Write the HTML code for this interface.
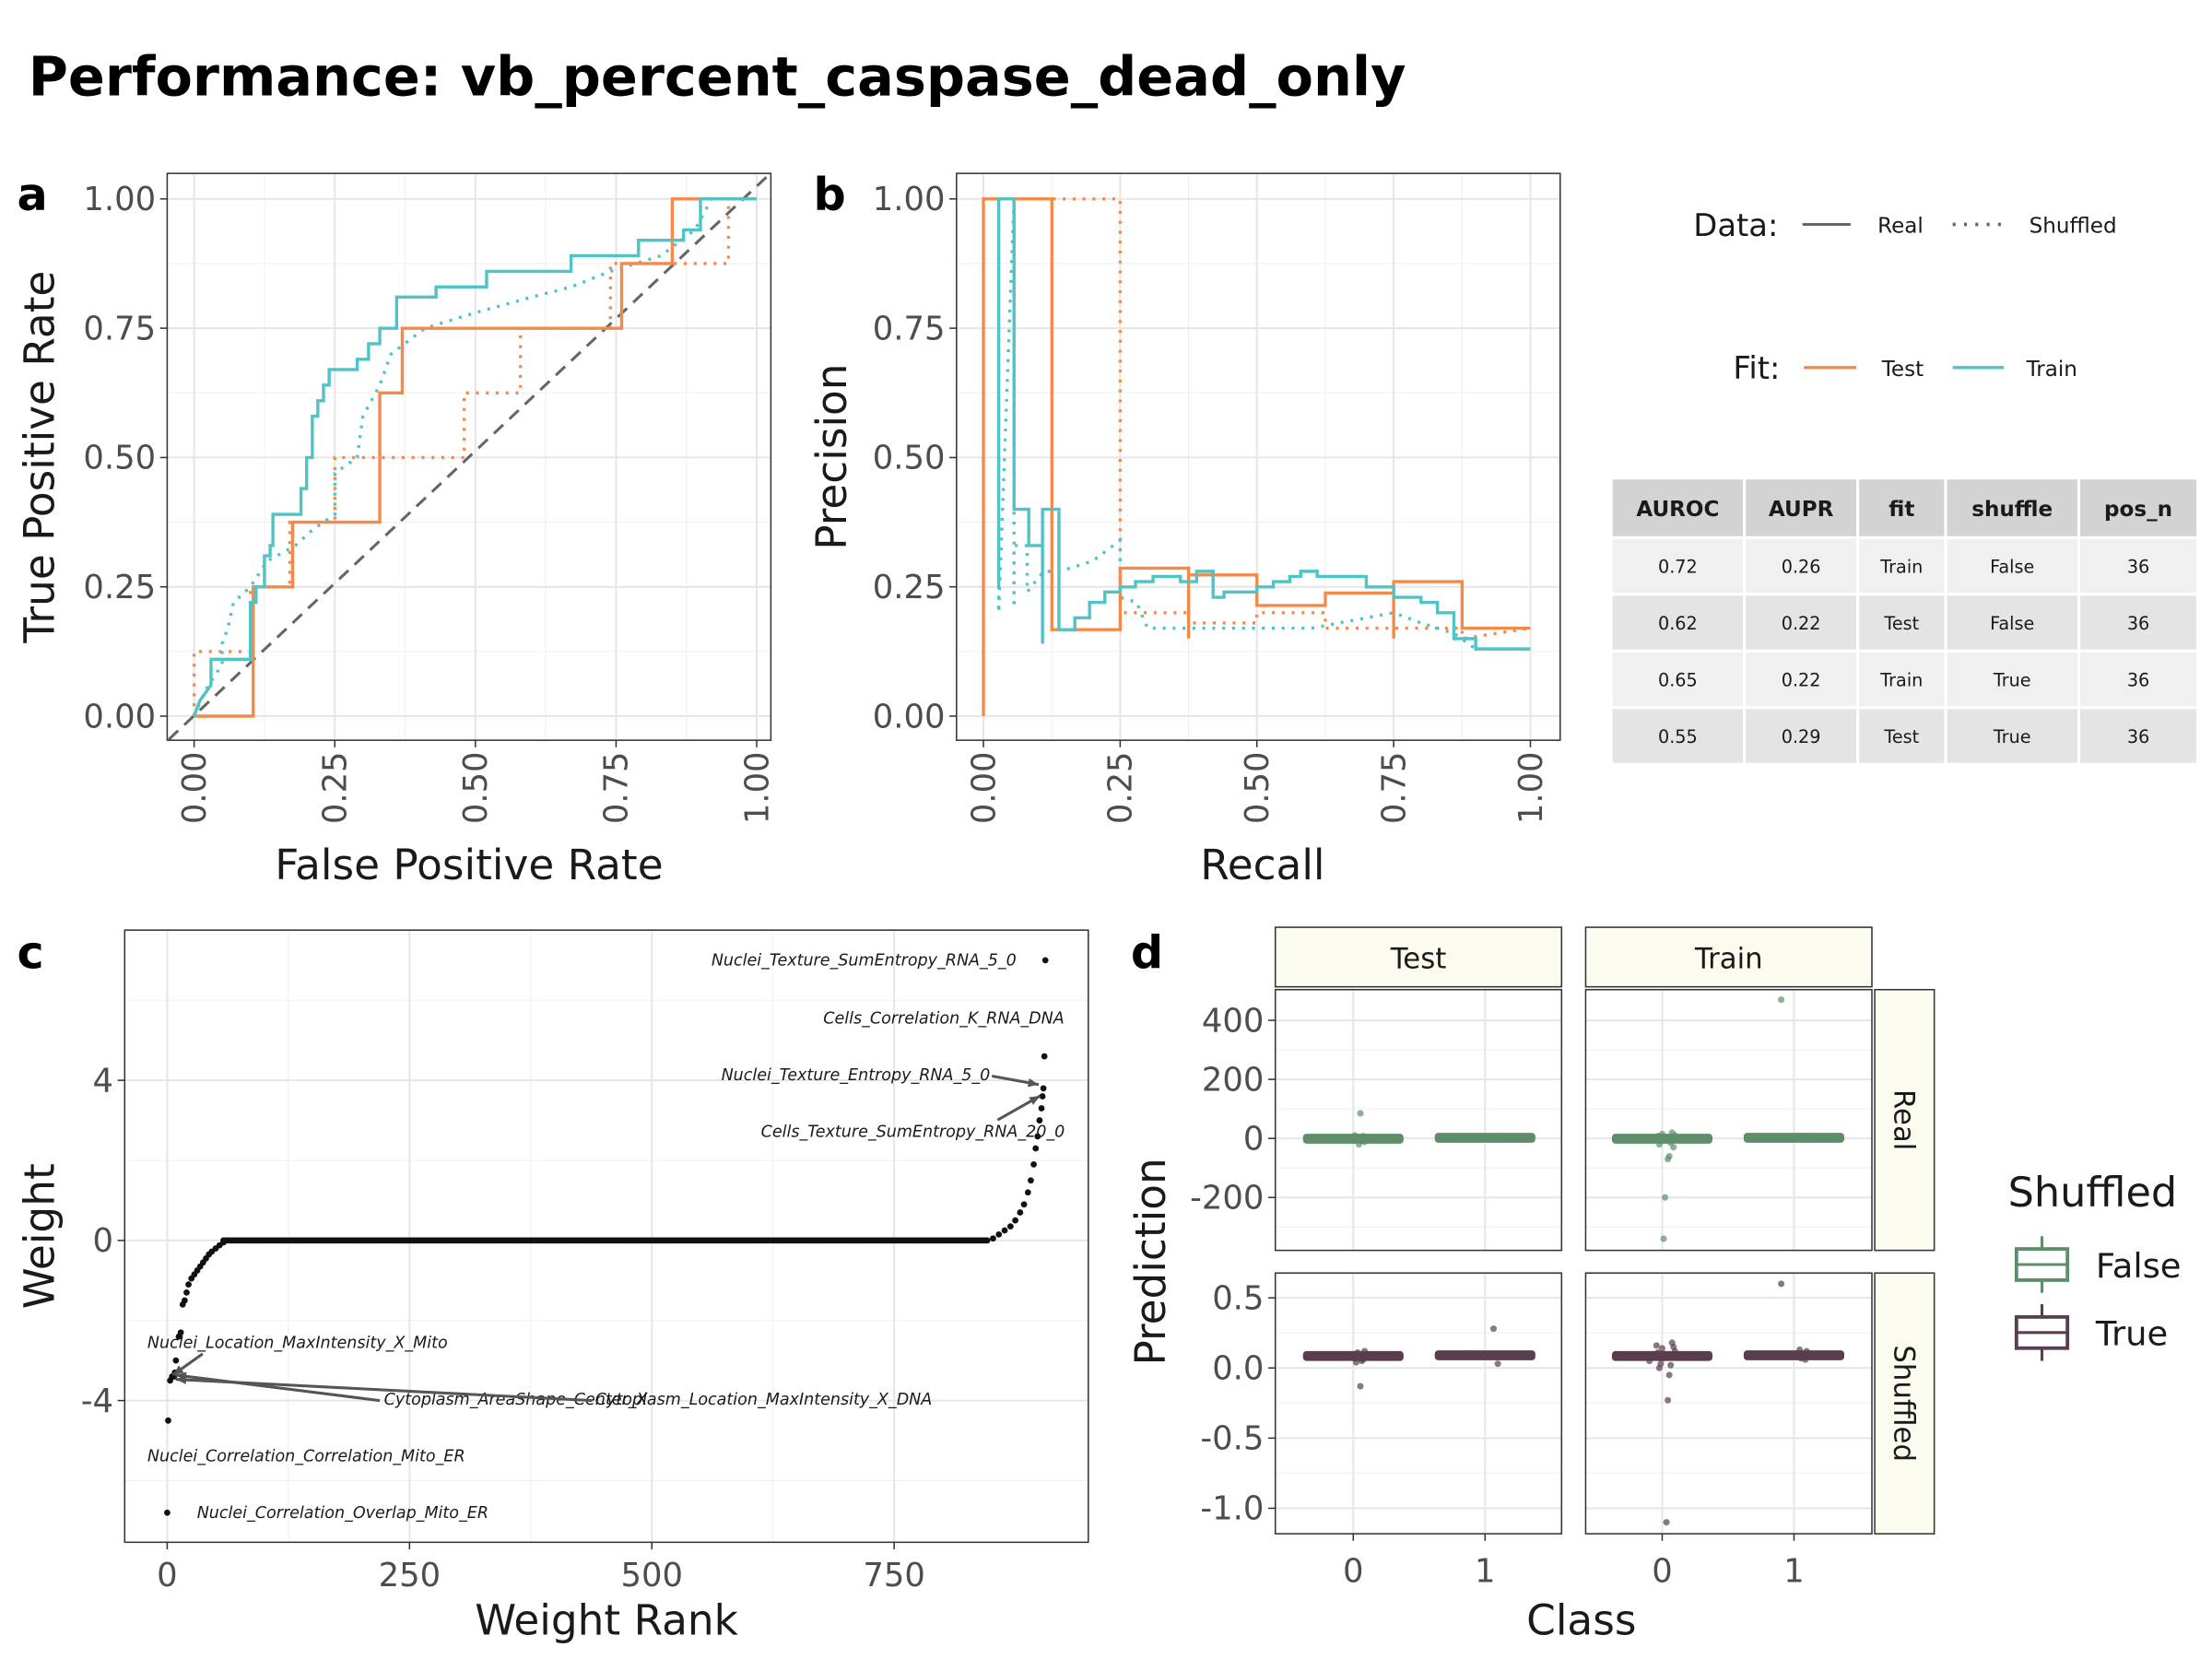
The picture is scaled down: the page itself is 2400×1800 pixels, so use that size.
<!DOCTYPE html>
<html><head><meta charset="utf-8"><style>
html,body{margin:0;padding:0;background:#fff}
svg{display:block;font-family:"DejaVu Sans","Liberation Sans",sans-serif}
</style></head><body>
<svg id="chart" width="2400" height="1800" viewBox="0 0 1561 1170" xmlns="http://www.w3.org/2000/svg">
<rect width="1561" height="1170" fill="#fff"/>
<text x="20" y="67" font-size="38.3" font-weight="bold">Performance: vb_percent_caspase_dead_only</text>
<text x="12" y="148" font-size="32" font-weight="bold">a</text>
<text x="574" y="148" font-size="32" font-weight="bold">b</text>
<text x="12" y="683" font-size="32" font-weight="bold">c</text>
<text x="798" y="683" font-size="32" font-weight="bold">d</text>
<g id="layer"></g>
</svg>
<script>
// ---------- data ----------
const rocTestReal = [[0,0],[0.105,0],[0.105,0.25],[0.175,0.25],[0.175,0.375],[0.33,0.375],[0.33,0.625],[0.37,0.625],[0.37,0.75],[0.76,0.75],[0.76,0.875],[0.85,0.875],[0.85,1],[1,1]];
const rocTrainReal = [[0,0],[0.01,0.03],[0.03,0.06],[0.03,0.11],[0.1,0.11],[0.1,0.22],[0.11,0.22],[0.11,0.25],[0.125,0.25],[0.125,0.31],[0.135,0.31],[0.135,0.33],[0.14,0.33],[0.14,0.39],[0.19,0.39],[0.19,0.44],[0.2,0.44],[0.2,0.5],[0.21,0.5],[0.21,0.58],[0.22,0.58],[0.22,0.61],[0.23,0.61],[0.23,0.64],[0.24,0.64],[0.24,0.67],[0.29,0.67],[0.29,0.69],[0.31,0.69],[0.31,0.72],[0.33,0.72],[0.33,0.75],[0.36,0.75],[0.36,0.81],[0.43,0.81],[0.43,0.83],[0.52,0.83],[0.52,0.86],[0.67,0.86],[0.67,0.89],[0.79,0.89],[0.79,0.92],[0.87,0.92],[0.87,0.94],[0.9,0.94],[0.9,1],[1,1]];
const rocTestShuf = [[0,0],[0,0.125],[0.1,0.125],[0.1,0.25],[0.17,0.25],[0.17,0.375],[0.25,0.375],[0.25,0.5],[0.48,0.5],[0.48,0.625],[0.58,0.625],[0.58,0.75],[0.74,0.75],[0.74,0.875],[0.95,0.875],[0.95,1],[1,1]];
const rocTrainShuf = [[0,0],[0.02,0.05],[0.05,0.1],[0.05,0.14],[0.06,0.17],[0.07,0.22],[0.1,0.25],[0.13,0.3],[0.18,0.33],[0.21,0.36],[0.25,0.39],[0.25,0.47],[0.29,0.5],[0.3,0.58],[0.33,0.64],[0.35,0.7],[0.41,0.75],[0.5,0.78],[0.6,0.81],[0.67,0.83],[0.74,0.86],[0.83,0.89],[0.89,0.94],[0.92,1],[1,1]];
const prTestReal = [[0,0],[0,1],[0.125,1],[0.125,0.167],[0.25,0.167],[0.25,0.286],[0.375,0.286],[0.375,0.15],[0.375,0.273],[0.5,0.273],[0.5,0.214],[0.625,0.214],[0.625,0.238],[0.75,0.238],[0.75,0.15],[0.75,0.26],[0.875,0.26],[0.875,0.17],[1,0.17]];
const prTrainReal = [[0.028,1],[0.028,0.25],[0.028,1],[0.056,1],[0.056,0.4],[0.083,0.4],[0.083,0.33],[0.108,0.33],[0.108,0.14],[0.108,0.4],[0.138,0.4],[0.138,0.167],[0.167,0.167],[0.167,0.19],[0.194,0.19],[0.194,0.22],[0.222,0.22],[0.222,0.24],[0.25,0.24],[0.25,0.25],[0.278,0.25],[0.278,0.26],[0.31,0.26],[0.31,0.27],[0.36,0.27],[0.36,0.26],[0.39,0.26],[0.39,0.28],[0.42,0.28],[0.42,0.23],[0.44,0.23],[0.44,0.24],[0.5,0.24],[0.5,0.25],[0.53,0.25],[0.53,0.26],[0.56,0.26],[0.56,0.27],[0.58,0.27],[0.58,0.28],[0.61,0.28],[0.61,0.27],[0.7,0.27],[0.7,0.25],[0.75,0.25],[0.75,0.23],[0.8,0.23],[0.8,0.22],[0.83,0.22],[0.83,0.2],[0.86,0.2],[0.86,0.15],[0.9,0.15],[0.9,0.13],[1,0.13]];
const prTestShuf = [[0,1],[0.25,1],[0.25,0.17],[0.25,0.2],[0.375,0.2],[0.375,0.18],[0.5,0.18],[0.5,0.2],[0.625,0.2],[0.625,0.17],[0.75,0.17],[0.875,0.17],[0.875,0.15],[1,0.17]];
const prTrainShuf = [[0.028,1],[0.028,0.2],[0.056,1],[0.056,0.21],[0.056,0.33],[0.08,0.33],[0.08,0.24],[0.11,0.28],[0.14,0.28],[0.2,0.3],[0.25,0.34],[0.25,0.23],[0.28,0.22],[0.3,0.17],[0.4,0.17],[0.5,0.17],[0.6,0.17],[0.7,0.19],[0.75,0.2],[0.8,0.18],[0.86,0.16],[0.9,0.13],[1,0.13]];
const tableHeader = ["AUROC","AUPR","fit","shuffle","pos_n"];
const tableRows = [["0.72","0.26","Train","False","36"],["0.62","0.22","Test","False","36"],["0.65","0.22","Train","True","36"],["0.55","0.29","Test","True","36"]];
const negTailRanks = [0,1,3,5,7,8,9,12,14,16,18,20,22,25,28,31,34,37,40,43,46,50,54,58];
const negTailWeights = [-6.8,-4.5,-3.5,-3.4,-3.4,-3.3,-3.0,-2.4,-2.3,-1.6,-1.5,-1.3,-1.1,-0.95,-0.85,-0.75,-0.65,-0.55,-0.45,-0.35,-0.28,-0.2,-0.12,-0.05];
const zeroStart = 58, zeroEnd = 846;
const posTailRanks = [852,858,864,870,875,880,884,888,891,894,896,898,900,902,903,904,905,906];
const posTailWeights = [0.05,0.15,0.25,0.35,0.5,0.7,0.9,1.2,1.5,1.9,2.3,2.6,3.0,3.3,3.6,3.8,4.6,7.0];
const realTestPts0 = [-5,3,-12,8,0,85,-20,5,-3,10,-8,2];
const realTestPts1 = [2,-2,4,0,3];
const realTrainPts0 = [-5,10,-30,20,-15,-60,-70,5,-200,-340,15,-8,-20,8];
const realTrainPts1 = [470,5,-3,8,2,-4];
const shufTestPts0 = [0.08,0.1,0.12,0.06,0.05,-0.13,0.09,0.11,0.04,0.07];
const shufTestPts1 = [0.1,0.03,0.09,0.08];
const shufTestPts1b = [0.28];
const shufTrainPts0 = [0.05,0.12,0.15,0.18,0.02,-0.05,-0.23,-1.1,0.1,0.07,0.14,0.03,0.0,0.11,0.16];
const shufTrainPts1 = [0.6,0.12,0.06,0.1,0.08,0.07,0.13];

// ---------- helpers ----------
const NS="http://www.w3.org/2000/svg";
const layer=document.getElementById('layer');
function mk(tag,attrs,parent){const e=document.createElementNS(NS,tag);for(const k in attrs)e.setAttribute(k,attrs[k]);(parent||layer).appendChild(e);return e;}
function txt(x,y,s,size,attrs){const e=mk('text',Object.assign({x:x,y:y,'font-size':size,fill:'#1a1a1a'},attrs||{}));e.textContent=s;return e;}
const ORANGE="#f5894a", TEAL="#4fc3c6";
const TICK=23, TITLE=29.5;

const ax=v=>137+v*397, ay=v=>505-v*365;
const bx=v=>694+v*386;
function gridPanel(x0,y0,x1,y1,xs,ys,xminor,yminor,name){
  const bg=mk('rect',{x:x0,y:y0,width:x1-x0,height:y1-y0,fill:'#fff'});
  
  
  xminor.forEach(v=>mk('line',{x1:v,x2:v,y1:y0,y2:y1,stroke:'#f0f0f0','stroke-width':0.7}));
  yminor.forEach(v=>mk('line',{x1:x0,x2:x1,y1:v,y2:v,stroke:'#f0f0f0','stroke-width':0.7}));
  xs.forEach(v=>mk('line',{x1:v,x2:v,y1:y0,y2:y1,stroke:'#e6e6e6','stroke-width':1.3}));
  ys.forEach(v=>mk('line',{x1:x0,x2:x1,y1:v,y2:v,stroke:'#e6e6e6','stroke-width':1.3}));
}
function border(x0,y0,x1,y1){mk('rect',{x:x0,y:y0,width:x1-x0,height:y1-y0,fill:'none',stroke:'#333','stroke-width':1});}
const ticks4=[0,0.25,0.5,0.75,1], minor4=[0.125,0.375,0.625,0.875];
const tickLabels4=["0.00","0.25","0.50","0.75","1.00"];
gridPanel(118,122,544,522,ticks4.map(ax),ticks4.map(ay),minor4.map(ax),minor4.map(ay),'roc');
gridPanel(675,122,1101,522,ticks4.map(bx),ticks4.map(ay),minor4.map(bx),minor4.map(ay),'pr');
function path(pts,fx,fy,color,dash,name){
  const d=pts.map((p,i)=>(i?'L':'M')+fx(p[0]).toFixed(1)+','+fy(p[1]).toFixed(1)).join('');
  const e=mk('path',{d:d,fill:'none',stroke:color,'stroke-width':2.2,'stroke-dasharray':dash||'none'});
  
  
}
const diag=mk('line',{x1:ax(-0.045),y1:ay(-0.045),x2:ax(1.02),y2:ay(1.045),stroke:'#666','stroke-width':2,'stroke-dasharray':'9,6'});


path(rocTestShuf,ax,ay,ORANGE,'2,5','roc-test-shuffled');
path(rocTrainShuf,ax,ay,TEAL,'2,5','roc-train-shuffled');
path(rocTestReal,ax,ay,ORANGE,null,'roc-test-real');
path(rocTrainReal,ax,ay,TEAL,null,'roc-train-real');
border(118,122,544,522);
path(prTestShuf,bx,ay,ORANGE,'2,5','pr-test-shuffled');
path(prTrainShuf,bx,ay,TEAL,'2,5','pr-train-shuffled');
path(prTestReal,bx,ay,ORANGE,null,'pr-test-real');
path(prTrainReal,bx,ay,TEAL,null,'pr-train-real');
border(675,122,1101,522);
function xTicksRot(fx,yb){ticks4.forEach((v,i)=>{mk('line',{x1:fx(v),x2:fx(v),y1:yb,y2:yb+5,stroke:'#333'});
  const t=txt(0,0,tickLabels4[i],TICK,{fill:'#4d4d4d','text-anchor':'end',transform:`translate(${fx(v)+8},${yb+8}) rotate(-90)`});
  });}
function yTicks(fy,xl,vals,labels,size){vals.forEach((v,i)=>{mk('line',{x1:xl-5,x2:xl,y1:fy(v),y2:fy(v),stroke:'#333'});
  const t=txt(xl-8,fy(v)+8,labels[i],size||TICK,{fill:'#4d4d4d','text-anchor':'end'});
  });}
xTicksRot(ax,522);yTicks(ay,118,ticks4,tickLabels4);
xTicksRot(bx,522);yTicks(ay,675,ticks4,tickLabels4);
let t;
t=txt(331,620,'False Positive Rate',TITLE,{'text-anchor':'middle'});
t=txt(0,0,'True Positive Rate',TITLE,{'text-anchor':'middle',transform:'translate(38,322) rotate(-90)'});
t=txt(891,620,'Recall',TITLE,{'text-anchor':'middle'});
t=txt(0,0,'Precision',TITLE,{'text-anchor':'middle',transform:'translate(597,322) rotate(-90)'});

// legends
t=txt(1195,166,'Data:',22);
mk('line',{x1:1272,x2:1306,y1:158,y2:158,stroke:'#666','stroke-width':2});
t=txt(1325,164,'Real',15);
mk('line',{x1:1378,x2:1414,y1:158,y2:158,stroke:'#666','stroke-width':2.5,'stroke-dasharray':'2,6'});
t=txt(1432,164,'Shuffled',15);
t=txt(1223,267,'Fit:',22);
mk('line',{x1:1273,x2:1310,y1:259,y2:259,stroke:ORANGE,'stroke-width':2.2});
t=txt(1328,265,'Test',15);
mk('line',{x1:1378,x2:1414,y1:259,y2:259,stroke:TEAL,'stroke-width':2.2});
t=txt(1430,265,'Train',15);

// table
const colX=[1138,1232,1312,1374,1468,1552];
const rowY=[338,380,420,460,500,540];
const rowFill=['#d3d3d3','#f0f0f0','#e4e4e4','#f0f0f0','#e4e4e4'];
for(let r=0;r<5;r++){for(let c=0;c<5;c++){
  mk('rect',{x:colX[c],y:rowY[r],width:colX[c+1]-colX[c]-2,height:rowY[r+1]-rowY[r]-2,fill:rowFill[r]});
  const s=r===0?tableHeader[c]:tableRows[r-1][c];
  const e=txt((colX[c]+colX[c+1]-2)/2,(rowY[r]+rowY[r+1])/2+(r===0?5:4),s,r===0?15:12.5,{'text-anchor':'middle','font-weight':r===0?'bold':'normal'});
  
  
}}

// ---------- panel c ----------
const cx=v=>118+v*0.684, cy=v=>875-v*28.25;
gridPanel(88,656,768,1088,[0,250,500,750].map(cx),[-4,0,4].map(cy),[125,375,625].map(cx),[-6,-2,2,6].map(cy),'weights');
function dot(x,y,r,fill,name,op){const e=mk('circle',{cx:x,cy:y,r:r,fill:fill,'fill-opacity':op||1});}
negTailRanks.forEach((r,i)=>dot(cx(r),cy(negTailWeights[i]),2.2,'#111','weight-point'));
for(let r=zeroStart;r<=zeroEnd;r+=2){dot(cx(r),cy(0),2.2,'#111','weight-point');}
posTailRanks.forEach((r,i)=>dot(cx(r),cy(posTailWeights[i]),2.2,'#111','weight-point'));
border(88,656,768,1088);
yTicks(cy,88,[4,0,-4],['4','0','-4']);
[0,250,500,750].forEach(v=>{mk('line',{x1:cx(v),x2:cx(v),y1:1088,y2:1093,stroke:'#333'});
  const e=txt(cx(v),1119,String(v),TICK,{fill:'#4d4d4d','text-anchor':'middle'});});
t=txt(428,1153,'Weight Rank',TITLE,{'text-anchor':'middle'});
t=txt(0,0,'Weight',TITLE,{'text-anchor':'middle',transform:'translate(38,872) rotate(-90)'});
const annots=[[502,681,'Nuclei_Texture_SumEntropy_RNA_5_0'],[581,722,'Cells_Correlation_K_RNA_DNA'],[509,762,'Nuclei_Texture_Entropy_RNA_5_0'],[537,802,'Cells_Texture_SumEntropy_RNA_20_0'],[104,951,'Nuclei_Location_MaxIntensity_X_Mito'],[271,991,'Cytoplasm_AreaShape_Center_X'],[420,991,'Cytoplasm_Location_MaxIntensity_X_DNA'],[104,1031,'Nuclei_Correlation_Correlation_Mito_ER'],[139,1071,'Nuclei_Correlation_Overlap_Mito_ER']];
annots.forEach(a=>{const e=txt(a[0],a[1],a[2],11.4,{'font-style':'italic'});});
[[700,759,733,765],[704,790,734,773],[143,955,122,970],[268,988,124,970],[418,988,124,973]].forEach(l=>{
  mk('line',{x1:l[0],y1:l[1],x2:l[2],y2:l[3],stroke:'#555','stroke-width':2});
  const ang=Math.atan2(l[3]-l[1],l[2]-l[0]);const L=8;
  mk('path',{d:`M${l[2]},${l[3]}L${l[2]-L*Math.cos(ang-0.4)},${l[3]-L*Math.sin(ang-0.4)}L${l[2]-L*Math.cos(ang+0.4)},${l[3]-L*Math.sin(ang+0.4)}Z`,fill:'#555'});
});

// ---------- panel d ----------
const GREEN="#5d8e69", PURPLE="#5a3d4e";
const dxTest=v=>955+v*93, dxTrain=v=>1173+v*93;
const ryReal=v=>803-v*0.2083, rySh=v=>965-v*99;
const cols=[[900,1102,dxTest,'Test'],[1119,1321,dxTrain,'Train']];
const rows=[[698,882,ryReal,'Real',[-200,0,200,400],[-300,-100,100,300],GREEN,[[realTestPts0,realTestPts1],[realTrainPts0,realTrainPts1]],-1,2,['-200','0','200','400']],
            [898,1082,rySh,'Shuffled',[-1,-0.5,0,0.5],[-0.75,-0.25,0.25],PURPLE,[[shufTestPts0,shufTestPts1.concat(shufTestPts1b)],[shufTrainPts0,shufTrainPts1]],0.085,0.09,['-1.0','-0.5','0.0','0.5']]];
rows.forEach((R,ri)=>{cols.forEach((C,ci)=>{
  gridPanel(C[0],R[0],C[1],R[1],[0,1].map(C[2]),R[4].map(R[2]),[],R[5].map(R[2]),'pred-'+C[3]+'-'+R[3]);
  const pts=R[7][ci];
  [0,1].forEach(k=>{
    const med=k===0?R[8]:R[9];
    const e=mk('rect',{x:C[2](k)-35,y:R[2](med)-3,width:70,height:6,rx:2,fill:R[6],stroke:R[6],'stroke-width':1});
    
    pts[k].forEach((v,j)=>dot(C[2](k)+((j*37)%19-9),R[2](v),2.3,R[6],'prediction-point',0.7));
  });
  border(C[0],R[0],C[1],R[1]);
});
  yTicks(R[2],900,R[4],R[10]);
  mk('rect',{x:1323,y:R[0],width:42,height:R[1]-R[0],fill:'#fbfcef',stroke:'#333','stroke-width':1});
  const s=txt(0,0,R[3],20,{'text-anchor':'middle',transform:`translate(1337,${(R[0]+R[1])/2}) rotate(90)`});
  
});
cols.forEach(C=>{
  mk('rect',{x:C[0],y:654,width:C[1]-C[0],height:42,fill:'#fbfcef',stroke:'#333','stroke-width':1});
  const s=txt((C[0]+C[1])/2,683,C[3],20,{'text-anchor':'middle'});
  
  [0,1].forEach(v=>{mk('line',{x1:C[2](v),x2:C[2](v),y1:1082,y2:1087,stroke:'#333'});
    const e=txt(C[2](v),1116,String(v),TICK,{fill:'#4d4d4d','text-anchor':'middle'});});
});
t=txt(1116,1153,'Class',TITLE,{'text-anchor':'middle'});
t=txt(0,0,'Prediction',TITLE,{'text-anchor':'middle',transform:'translate(822,890) rotate(-90)'});
t=txt(1417,851,'Shuffled',29);
[[892,GREEN,'False'],[940,PURPLE,'True']].forEach(k=>{
  mk('line',{x1:1441,x2:1441,y1:k[0]-20,y2:k[0]+20,stroke:k[1],'stroke-width':2});
  mk('rect',{x:1423,y:k[0]-11,width:36,height:22,fill:'#fff',stroke:k[1],'stroke-width':2.5});
  mk('line',{x1:1423,x2:1459,y1:k[0],y2:k[0],stroke:k[1],'stroke-width':2});
  const e=txt(1479,k[0]+9,k[2],24);
});
</script>
</body></html>
